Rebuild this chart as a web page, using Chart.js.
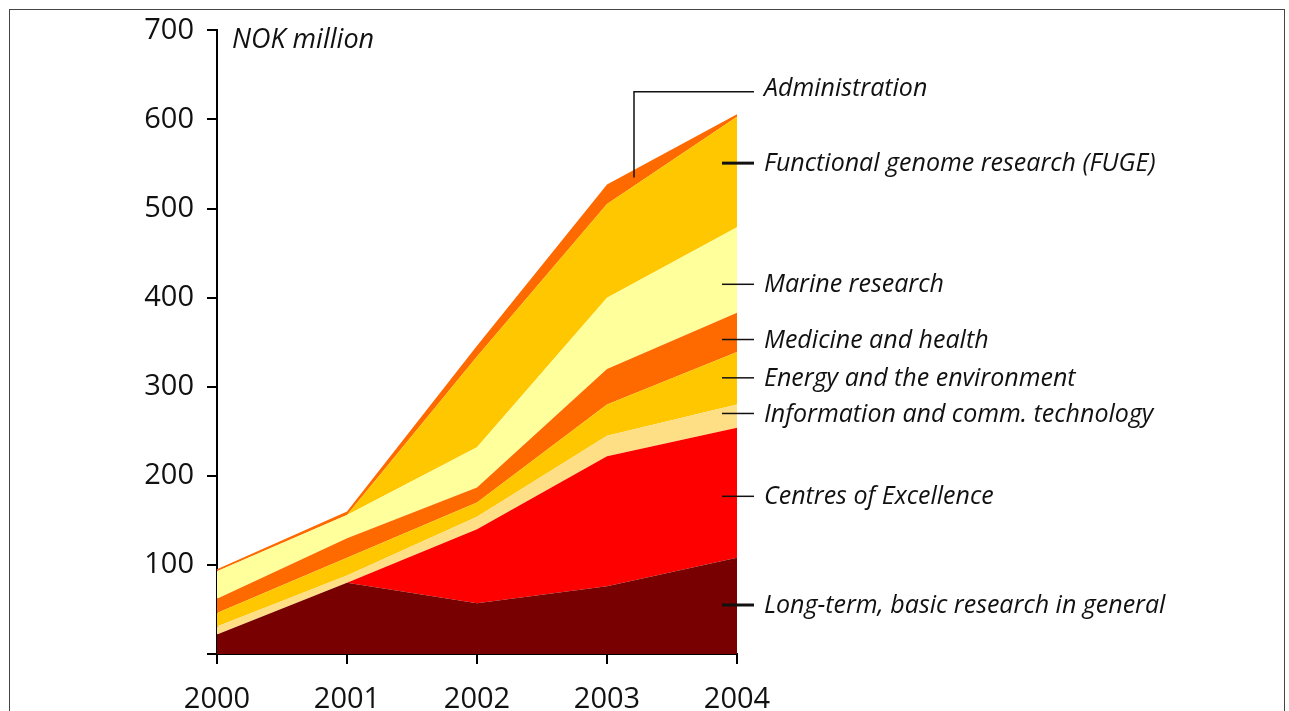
<!DOCTYPE html>
<html>
<head>
<meta charset="utf-8">
<script src="https://cdn.jsdelivr.net/npm/chart.js@4"></script>
<style>
  html, body { margin: 0; padding: 0; background: #fff; }
  #wrap { position: relative; width: 1289px; height: 711px; overflow: hidden; }
  #frame { position: absolute; left: 9px; top: 9px; width: 1276px; height: 800px; border: 1px solid #444; box-sizing: border-box; }
  canvas { position: absolute; left: 0; top: 0; }
</style>
</head>
<body>
<div id="wrap">
  <div id="frame"></div>
  <canvas id="c" width="1289" height="711"></canvas>
</div>
<script>
// Research budget by priority area, NOK million, stacked from the bottom up
const years = ['2000', '2001', '2002', '2003', '2004'];

const longTermBasic   = [22, 80, 57, 76, 108];
const centresExcel    = [0, 0, 83, 146, 146];
const ictResearch     = [9, 8, 14, 23, 26];
const energyEnv       = [15, 20, 16, 35, 59];
const medicineHealth  = [16, 22, 17, 40, 44];
const marineResearch  = [31, 26, 45, 80, 96];
const fugeResearch    = [0, 0, 102, 105, 124];
const administration  = [2, 4, 12, 22, 3];

const seriesNames = [
  'Long-term, basic research in general',
  'Centres of Excellence',
  'Information and comm. technology',
  'Energy and the environment',
  'Medicine and health',
  'Marine research',
  'Functional genome research (FUGE)',
  'Administration'
];
const seriesValues = [longTermBasic, centresExcel, ictResearch, energyEnv,
                      medicineHealth, marineResearch, fugeResearch, administration];
const seriesColors = ['#780000', '#ff0000', '#ffdf85', '#ffc700',
                      '#ff6a00', '#ffff9c', '#ffc700', '#ff6a00'];

const yTicks = [0, 100, 200, 300, 400, 500, 600, 700];

// Where each right-hand caption sits, in NOK million on the y scale
const captionAt = [55, 177, 270, 310, 353, 415, 551, 631];

const datasets = seriesValues.map((vals, i) => ({
  label: seriesNames[i],
  data: vals,
  backgroundColor: seriesColors[i],
  borderColor: seriesColors[i],
  borderWidth: 0,
  pointRadius: 0,
  tension: 0,
  fill: i === 0 ? 'origin' : '-1'
}));

const tickFont = { family: '"Open Sans", sans-serif', size: 29 };

const captions = {
  id: 'captions',
  afterDraw(chart) {
    const { ctx, chartArea, scales } = chart;
    const x0 = chartArea.right - 15;
    const x1 = chartArea.right + 17;
    const tx = chartArea.right + 27;
    ctx.save();
    ctx.font = 'italic 25px "Open Sans", sans-serif';
    ctx.fillStyle = '#111';
    ctx.textBaseline = 'middle';
    ctx.strokeStyle = '#111';
    seriesNames.forEach((name, i) => {
      const y = scales.y.getPixelForValue(captionAt[i]);
      if (i === seriesNames.length - 1) {
        // Administration: elbow leader from the thin top band at 2003
        const xs = scales.x.getPixelForValue(3) + 27;
        const yb = scales.y.getPixelForValue(535);
        ctx.lineWidth = 1.5;
        ctx.beginPath();
        ctx.moveTo(xs, yb);
        ctx.lineTo(xs, y);
        ctx.lineTo(x1, y);
        ctx.stroke();
        ctx.fillText(name, tx, y - 3);
      } else {
        ctx.lineWidth = (i === 0 || i === 6) ? 3 : 1.5;
        ctx.beginPath();
        ctx.moveTo(x0, y);
        ctx.lineTo(x1, y);
        ctx.stroke();
        ctx.fillText(name, tx, y + 1);
      }
    });
    // unit caption beside the top of the value axis
    ctx.font = 'italic 27px "Open Sans", sans-serif';
    ctx.fillText('NOK million', chartArea.left + 15, scales.y.getPixelForValue(700) + 10);
    ctx.restore();
  }
};

new Chart(document.getElementById('c'), {
  type: 'line',
  data: { labels: years, datasets },
  options: {
    responsive: false,
    animation: false,
    layout: { padding: { left: 0, right: 552, top: 30, bottom: 0 } },
    plugins: { legend: { display: false }, tooltip: { enabled: false } },
    scales: {
      x: {
        offset: false,
        grid: { drawOnChartArea: false, drawTicks: true, tickLength: 10, color: '#000', lineWidth: 2 },
        border: { display: true, color: '#000', width: 2 },
        ticks: { color: '#111', font: tickFont, padding: 18, maxRotation: 0 },
        afterFit(s) { s.height = 57; }
      },
      y: {
        stacked: true,
        min: 0, max: 700,
        afterBuildTicks(s) { s.ticks = yTicks.map(v => ({ value: v })); },
        grid: { drawOnChartArea: false, drawTicks: true, tickLength: 10, color: '#000', lineWidth: 2 },
        border: { display: true, color: '#000', width: 2 },
        ticks: { color: '#111', font: tickFont, padding: 13,
                 callback: v => v === 0 ? '' : String(v) },
        afterFit(s) { s.width = 217; }
      }
    }
  },
  plugins: [captions]
});
</script>
</body>
</html>
